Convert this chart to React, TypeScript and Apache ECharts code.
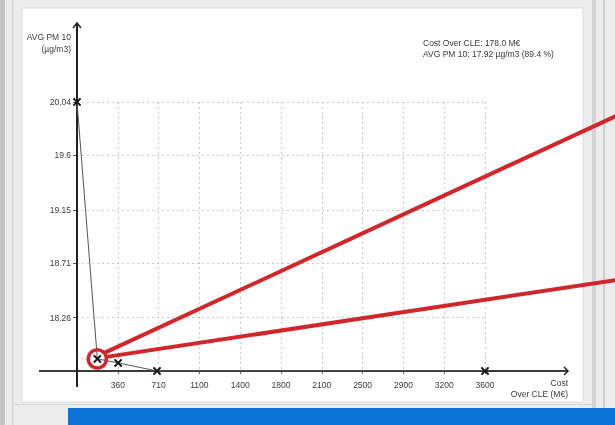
import React, { useEffect, useRef } from "react";
import * as echarts from "echarts";

const costs = [0, 178, 360, 700, 3570];
const pm10 = [20.04, 17.92, 17.887, 17.82, 17.82];
const xTickValues = [357, 714, 1071, 1428, 1785, 2142, 2499, 2856, 3213, 3570];
const xTickLabels = ["360", "710", "1100", "1400", "1800", "2100", "2500", "2900", "3200", "3600"];
const yTickValues = [18.26, 18.71, 19.15, 19.6, 20.04];
const yTickLabels = ["18.26", "18.71", "19.15", "19.6", "20.04"];
const selectedIndex = 1;
const infoLines = ["Cost Over CLE: 178.0 M€", "AVG PM 10: 17.92 µg/m3 (89.4 %)"];
const yAxisName = ["AVG PM 10", "(µg/m3)"];
const xAxisName = ["Cost", "Over CLE (M€)"];

const G_LEFT = 77;
const G_TOP = 102;
const G_W = 408;
const G_H = 269;
const FONT = "Liberation Sans";
const RED = "#d3262b";

export default function App() {
  const ref = useRef<HTMLDivElement>(null);
  useEffect(() => {
    if (!ref.current) return;
    const chart = echarts.init(ref.current, null, { renderer: "svg" });
    const axisY = G_TOP + G_H;
    const bg: any[] = [
      { id: "bg", type: "rect", shape: { x: 0, y: 0, width: 615, height: 425 }, style: { fill: "#ececec" }, z: -10, silent: true },
      { id: "lstrip", type: "rect", shape: { x: 0, y: 0, width: 5, height: 425 }, style: { fill: "#c4c4c4" }, z: -9, silent: true },
      { id: "lline", type: "rect", shape: { x: 12, y: 0, width: 1.5, height: 425 }, style: { fill: "#d2d2d2" }, z: -9, silent: true },
      { id: "panel", type: "rect", shape: { x: 22, y: 8, width: 561, height: 394 }, style: { fill: "#ffffff", stroke: "#dddddd", lineWidth: 1 }, z: -8, silent: true },
      { id: "rline1", type: "rect", shape: { x: 592, y: 0, width: 4, height: 425 }, style: { fill: "#d4d4d4" }, z: -9, silent: true },
      { id: "rline2", type: "rect", shape: { x: 603, y: 0, width: 2, height: 425 }, style: { fill: "#cdcdcd" }, z: -9, silent: true },
      { id: "bline", type: "rect", shape: { x: 14, y: 404, width: 580, height: 1 }, style: { fill: "#d6d6d6" }, z: -9, silent: true },
      { id: "blue", type: "rect", shape: { x: 68, y: 408, width: 547, height: 17 }, style: { fill: "#0c74d6" }, z: 20, silent: true },
      { id: "xaxis", type: "line", shape: { x1: 39, y1: axisY, x2: 568, y2: axisY }, style: { stroke: "#3a3a3a", lineWidth: 2 }, z: 1, silent: true },
      { id: "xarrow", type: "polyline", shape: { points: [[564, axisY - 4], [568, axisY], [564, axisY + 4]] }, style: { stroke: "#222", lineWidth: 1.5, fill: "none" }, z: 1, silent: true },
      { id: "yaxis", type: "line", shape: { x1: G_LEFT, y1: 23, x2: G_LEFT, y2: 387 }, style: { stroke: "#222", lineWidth: 2 }, z: 1, silent: true },
      { id: "yarrow", type: "polyline", shape: { points: [[G_LEFT - 4, 28], [G_LEFT, 23], [G_LEFT + 4, 28]] }, style: { stroke: "#222", lineWidth: 1.5, fill: "none" }, z: 1, silent: true },
      { id: "yname", type: "text", x: 71, y: 31, style: { text: yAxisName.join("\n"), align: "right", verticalAlign: "top", fontSize: 8.5, lineHeight: 12, fontFamily: FONT, fill: "#3a3a3a" }, z: 5 },
      { id: "xname", type: "text", x: 568, y: 377, style: { text: xAxisName.join("\n"), align: "right", verticalAlign: "top", fontSize: 8.5, lineHeight: 11.5, fontFamily: FONT, fill: "#3a3a3a" }, z: 5 },
      { id: "info", type: "text", x: 423, y: 38, style: { text: infoLines.join("\n"), align: "left", verticalAlign: "top", fontSize: 8.5, lineHeight: 10.5, fontFamily: FONT, fill: "#3a3a3a" }, z: 5 },
    ];

    chart.setOption({
      animation: false,
      textStyle: { fontFamily: FONT },
      grid: { left: G_LEFT, top: G_TOP, width: G_W, height: G_H, containLabel: false },
      xAxis: {
        type: "value",
        min: 0,
        max: 3570,
        interval: 357,
        axisLine: { show: false },
        axisTick: { show: true, length: 3, lineStyle: { color: "#666" } },
        axisLabel: {
          fontSize: 8.5,
          color: "#3a3a3a",
          margin: 9,
          fontFamily: FONT,
          formatter: (v: number) => {
            const i = xTickValues.indexOf(Math.round(v));
            return i >= 0 ? xTickLabels[i] : "";
          },
        },
        splitLine: { show: true, lineStyle: { type: [2, 3], color: "#c8c8c8", width: 1 } },
      },
      yAxis: {
        type: "value",
        min: 17.82,
        max: 20.04,
        axisLine: { show: false },
        axisTick: { show: true, length: 4, customValues: yTickValues, lineStyle: { color: "#555" } },
        axisLabel: {
          fontSize: 8.5,
          color: "#3a3a3a",
          margin: 6,
          fontFamily: FONT,
          customValues: yTickValues,
          formatter: (v: number) => {
            const i = yTickValues.findIndex((t) => Math.abs(t - v) < 1e-6);
            return i >= 0 ? yTickLabels[i] : "";
          },
        },
        splitLine: { show: true, lineStyle: { type: [2, 3], color: "#c8c8c8", width: 1 } },
      },
      series: [
        {
          type: "line",
          data: costs.map((c, i) => [c, pm10[i]]),
          symbol: "path://M0,1.6 L1.6,0 L5,3.4 L8.4,0 L10,1.6 L6.6,5 L10,8.4 L8.4,10 L5,6.6 L1.6,10 L0,8.4 L3.4,5 Z",
          symbolSize: 8.5,
          showAllSymbol: true,
          itemStyle: { color: "#111" },
          lineStyle: { color: "#555", width: 1 },
          z: 5,
        },
      ],
      graphic: bg,
    });

    const p = chart.convertToPixel({ seriesIndex: 0 }, [costs[selectedIndex], pm10[selectedIndex]]) as number[];
    const px = p[0];
    const py = p[1];
    chart.setOption({
      graphic: [
        ...bg,
        { id: "hl", type: "line", shape: { x1: G_LEFT, y1: py, x2: px - 9, y2: py }, style: { stroke: "rgba(220,90,90,0.45)", lineWidth: 1, lineDash: [2, 2] }, z: 9, silent: true },
        { id: "ring", type: "circle", shape: { cx: px, cy: py, r: 9 }, style: { stroke: RED, lineWidth: 3.5, fill: "none" }, z: 10, silent: true },
        { id: "arrow1", type: "line", shape: { x1: px + 7, y1: py - 6, x2: 616, y2: 116 }, style: { stroke: RED, lineWidth: 4 }, z: 10, silent: true },
        { id: "arrow2", type: "line", shape: { x1: px + 9, y1: py - 2, x2: 616, y2: 280 }, style: { stroke: RED, lineWidth: 4 }, z: 10, silent: true },
      ],
    });

    return () => chart.dispose();
  }, []);
  return <div ref={ref} style={{ position: "fixed", left: 0, top: 0, width: 615, height: 425 }} />;
}
